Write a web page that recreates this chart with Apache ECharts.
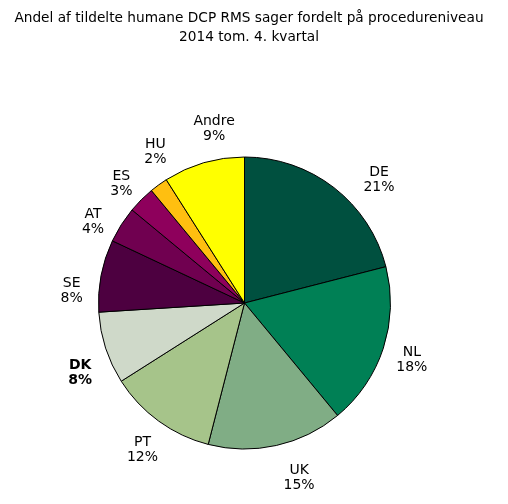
<!DOCTYPE html>
<html>
<head>
<meta charset="utf-8">
<script src="https://cdn.jsdelivr.net/npm/echarts@6/dist/echarts.min.js"></script>
<style>
  html, body { margin: 0; padding: 0; background: #ffffff; }
  #main { width: 508px; height: 504px; }
</style>
</head>
<body>
<div id="main"></div>
<script>
// lande og andele (procent), med uret fra kl. 12
var countries = ["DE", "NL", "UK", "PT", "DK", "SE", "AT", "ES", "HU", "Andre"];
var shares = [21, 18, 15, 12, 8, 8, 4, 3, 2, 9];
var colors = ["#00503f", "#008055", "#80ad85", "#a6c48a", "#cfd9c9",
              "#4d0040", "#700050", "#8e005c", "#ffbf10", "#ffff00"];
var boldLabel = "DK";
var titleLines = ["Andel af tildelte humane DCP RMS sager fordelt på procedureniveau",
                  "2014 tom. 4. kvartal"];

// små justeringer af etiketternes placering (px), som i Excel
var labelNudge = [[26, 17], [-1, 2], [16, 2], [2, 4], [4, 15],
                  [1, 21], [-2, 14], [2, 6], [15, -8], [19, -4]];

var chart = echarts.init(document.getElementById("main"));

var pieData = countries.map(function (name, i) {
  var item = { name: name, value: shares[i], itemStyle: { color: colors[i] } };
  if (name === boldLabel) {
    item.label = { fontWeight: "bold" };
  }
  return item;
});

// titel: en tekst pr. linje, centreret lidt venstre for midten
var titleGraphics = titleLines.map(function (line, i) {
  return {
    type: "text",
    x: 249,
    y: 18 + i * 19,
    style: {
      text: line,
      align: "center",
      textAlign: "center",
      verticalAlign: "middle",
      textVerticalAlign: "middle",
      fontFamily: "DejaVu Sans",
      fontSize: 13.7,
      fill: "#000000"
    }
  };
});

var option = {
  animation: false,
  graphic: titleGraphics,
  series: [
    {
      type: "pie",
      center: [244.5, 303],
      radius: 146,
      startAngle: 90,
      clockwise: true,
      avoidLabelOverlap: false,
      itemStyle: { borderColor: "#000000", borderWidth: 1 },
      label: {
        show: true,
        position: "outside",
        formatter: "{b}\n{c}%",
        fontFamily: "DejaVu Sans",
        fontSize: 14,
        lineHeight: 15,
        color: "#000000",
        align: "center"
      },
      labelLine: { show: true, length: 31, length2: 0, lineStyle: { opacity: 0 } },
      labelLayout: function (params) {
        var pts = params.labelLinePoints;
        if (!pts) return {};
        var n = labelNudge[params.dataIndex] || [0, 0];
        return {
          x: pts[1][0] + n[0],
          y: pts[1][1] + n[1],
          align: "center",
          verticalAlign: "middle"
        };
      },
      emphasis: { disabled: true },
      data: pieData
    }
  ]
};

option && chart.setOption(option);
</script>
</body>
</html>
